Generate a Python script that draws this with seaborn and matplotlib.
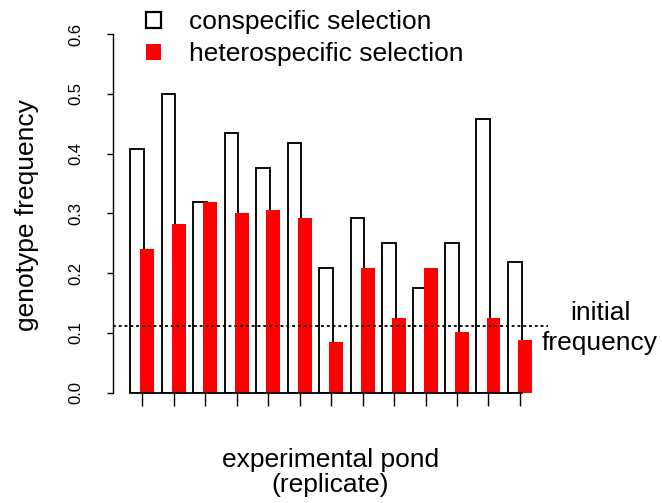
import numpy as np
import pandas as pd
import matplotlib
matplotlib.use("Agg")
import matplotlib.pyplot as plt
from matplotlib.patches import Patch
import seaborn as sns

# ---- data ----
ponds = [1, 2, 3, 4, 5, 6, 7, 8, 9, 10, 11, 12, 13]
conspecific = [0.407, 0.500, 0.318, 0.435, 0.375, 0.417, 0.209, 0.292, 0.251, 0.175, 0.251, 0.458, 0.218]
heterospecific = [0.241, 0.282, 0.319, 0.300, 0.305, 0.292, 0.084, 0.209, 0.125, 0.209, 0.101, 0.125, 0.088]
initial_frequency = 0.111
y_ticks = [0.0, 0.1, 0.2, 0.3, 0.4, 0.5, 0.6]
y_tick_labels = ["0.0", "0.1", "0.2", "0.3", "0.4", "0.5", "0.6"]

sns.set_theme(style="ticks")
plt.rcParams["font.family"] = ["Liberation Sans", "DejaVu Sans"]
plt.rcParams["text.color"] = "black"
plt.rcParams["axes.labelcolor"] = "black"
plt.rcParams["xtick.color"] = "black"
plt.rcParams["ytick.color"] = "black"

W, H = 662, 503
fig = plt.figure(figsize=(W / 100, H / 100), dpi=100, facecolor="white")
ax = fig.add_axes([113 / W, (H - 392.5) / H, 435 / W, 358.5 / H])
ax.set_facecolor("white")

offset = 0.159
bar_w = 0.444
df = pd.DataFrame({"pond": ponds, "cons": conspecific, "het": heterospecific})
df["x_cons"] = df["pond"] - offset
df["x_het"] = df["pond"] + offset

sns.barplot(data=df, x="x_cons", y="cons", native_scale=True, orient="x",
            width=bar_w, color="white", edgecolor="black", linewidth=1.35,
            saturation=1, errorbar=None, ax=ax, zorder=1)
sns.barplot(data=df, x="x_het", y="het", native_scale=True, orient="x",
            width=bar_w, color="#ff0000", edgecolor="none", linewidth=0,
            saturation=1, errorbar=None, ax=ax, zorder=2)

ax.axhline(initial_frequency, color="black", linestyle=(0, (1.6, 1.6)),
           linewidth=1.3, zorder=4)

ax.set_xlim(ponds[0] - 0.921, ponds[-1] + 0.889)
ax.set_ylim(0, 0.6)

# spines
for s in ["top", "right"]:
    ax.spines[s].set_visible(False)
ax.spines["left"].set_bounds(0, 0.6)
ax.spines["left"].set_linewidth(1.0)
ax.spines["left"].set_color("black")
ax.spines["bottom"].set_bounds(ponds[0] - offset - bar_w / 2, ponds[-1] - offset + bar_w / 2)
ax.spines["bottom"].set_linewidth(1.3)
ax.spines["bottom"].set_color("black")

ax.set_xticks(ponds)
ax.set_xticklabels([])
ax.tick_params(axis="x", direction="out", length=9.7, width=1.0, color="black")
ax.set_yticks(y_ticks)
ax.set_yticklabels(y_tick_labels, rotation=90, va="center", fontsize=12, color="black")
ax.tick_params(axis="y", direction="out", length=4.0, width=1.0, color="black", pad=17)

ax.set_xlabel("experimental pond\n(replicate)", fontsize=19, va="baseline",
              linespacing=1.07, color="black")
ax.xaxis.set_label_coords(0.5, (392.5 - 492) / 358.5)
ax.set_ylabel("genotype frequency", fontsize=19, va="center", color="black")
ax.yaxis.set_label_coords((27 - 113) / 435, (392.5 - 215.5) / 358.5)

ax.text((600 - 113) / 435, (392.5 - 350) / 358.5, "initial\nfrequency",
        transform=ax.transAxes, ha="center", va="baseline", fontsize=19,
        linespacing=1.3, clip_on=False, color="black")

handles = [Patch(facecolor="white", edgecolor="black", linewidth=1.6),
           Patch(facecolor="#ff0000", edgecolor="none")]
leg = ax.legend(handles, ["conspecific selection", "heterospecific selection"],
                loc="upper left", bbox_to_anchor=(146 / W, 1 - 10 / H),
                bbox_transform=fig.transFigure, frameon=False, fontsize=19,
                handlelength=0.57, handleheight=0.55, handletextpad=1.06,
                labelspacing=0.3, borderpad=0, borderaxespad=0)
for t in leg.get_texts():
    t.set_color("black")

fig.savefig("out.png", dpi=100, facecolor="white")
